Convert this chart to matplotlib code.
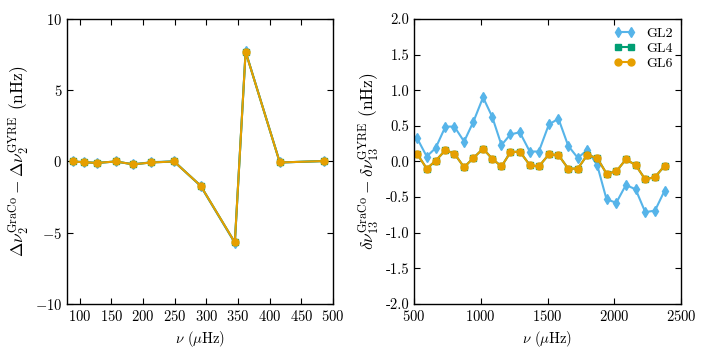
import numpy as np
import matplotlib
matplotlib.use('Agg')
import matplotlib.pyplot as plt

plt.rcParams['font.family'] = 'serif'
plt.rcParams['font.serif'] = ['cmr10', 'DejaVu Serif']
plt.rcParams['mathtext.fontset'] = 'cm'
plt.rcParams['axes.formatter.use_mathtext'] = True
plt.rcParams['font.size'] = 10
plt.rcParams['axes.linewidth'] = 1.0

# left panel: large separation differences (l=2)
nu_l2 = [89.5, 106.3, 127.4, 156.8, 184.7, 212.6, 249.0, 291.0, 345.0, 362.0, 416.0, 485.0]
dnu2_gl2 = [0.0, -0.05, -0.1, 0.0, -0.2, -0.05, 0.02, -1.72, -5.72, 7.72, -0.07, 0.03]
dnu2_gl4 = [0.0, -0.05, -0.1, 0.0, -0.2, -0.07, 0.0, -1.7, -5.68, 7.7, -0.07, 0.03]
dnu2_gl6 = [0.0, -0.05, -0.1, 0.0, -0.2, -0.07, 0.0, -1.7, -5.68, 7.7, -0.07, 0.03]

# right panel: small separation differences (l=1,3)
nu_13 = [522, 595, 662, 735, 802, 875, 945, 1017, 1085, 1155, 1222, 1292, 1367, 1435,
         1510, 1582, 1655, 1727, 1797, 1872, 1942, 2015, 2087, 2160, 2232, 2305, 2377]
d13_gl2 = [0.33, 0.07, 0.19, 0.49, 0.49, 0.28, 0.56, 0.90, 0.63, 0.23, 0.38, 0.41, 0.14, 0.14,
           0.52, 0.60, 0.22, 0.05, 0.16, -0.05, -0.53, -0.58, -0.33, -0.39, -0.71, -0.69, -0.41]
d13_gl4 = [0.11, -0.10, 0.01, 0.16, 0.11, -0.08, 0.05, 0.18, 0.04, -0.07, 0.13, 0.14, -0.05, -0.07,
           0.10, 0.09, -0.10, -0.10, 0.09, 0.05, -0.17, -0.14, 0.03, -0.05, -0.25, -0.22, -0.06]
d13_gl6 = [0.11, -0.10, 0.01, 0.16, 0.11, -0.08, 0.05, 0.18, 0.04, -0.07, 0.13, 0.14, -0.05, -0.07,
           0.10, 0.09, -0.10, -0.10, 0.09, 0.05, -0.17, -0.14, 0.03, -0.05, -0.25, -0.22, -0.06]

c_gl2 = '#56B4E9'
c_gl4 = '#009E73'
c_gl6 = '#E69F00'

fig = plt.figure(figsize=(7.09, 3.55), dpi=100)
ax1 = fig.add_axes([0.0945, 0.1437, 0.3752, 0.8028])
ax2 = fig.add_axes([0.584, 0.1437, 0.3765, 0.8028])

for ax in (ax1, ax2):
    ax.tick_params(direction='in', top=True, right=True, length=4, width=0.8, labelsize=10.5)

ax1.plot(nu_l2, dnu2_gl2, '-d', color=c_gl2, ms=5, mec=c_gl2, lw=1.5, label='GL2')
ax1.plot(nu_l2, dnu2_gl4, '-s', color=c_gl4, ms=5, mec=c_gl4, lw=1.5, label='GL4')
ax1.plot(nu_l2, dnu2_gl6, '-o', color=c_gl6, ms=5, mec=c_gl6, lw=1.5, label='GL6')
ax1.set_xlim(80, 500)
ax1.set_ylim(-10, 10)
ax1.set_xticks([100, 150, 200, 250, 300, 350, 400, 450, 500])
ax1.set_yticks([-10, -5, 0, 5, 10])
ax1.set_xlabel(r'$\nu$ ($\mu$Hz)', fontsize=10.5)
ax1.set_ylabel(r'$\Delta\nu_2^{\rm GraCo} - \Delta\nu_2^{\rm GYRE}$ (nHz)', fontsize=12.5, labelpad=3)

ax2.plot(nu_13, d13_gl2, '-d', color=c_gl2, ms=5, mec=c_gl2, lw=1.5, label='GL2')
ax2.plot(nu_13, d13_gl4, '-s', color=c_gl4, ms=5, mec=c_gl4, lw=1.5, label='GL4')
ax2.plot(nu_13, d13_gl6, '-o', color=c_gl6, ms=5, mec=c_gl6, lw=1.5, label='GL6')
ax2.set_xlim(500, 2500)
ax2.set_ylim(-2, 2)
ax2.set_xticks([500, 1000, 1500, 2000, 2500])
ax2.set_yticks(np.arange(-2.0, 2.01, 0.5))
ax2.yaxis.set_major_formatter(matplotlib.ticker.FormatStrFormatter('%.1f'))
ax2.set_xlabel(r'$\nu$ ($\mu$Hz)', fontsize=10.5)
ax2.set_ylabel(r'$\delta\nu_{13}^{\rm GraCo} - \delta\nu_{13}^{\rm GYRE}$ (nHz)', fontsize=12.5, labelpad=3)
ax2.legend(loc='upper right', frameon=False, numpoints=2, fontsize=10,
           handlelength=1.5, handletextpad=0.8, labelspacing=0.15,
           borderaxespad=0.3, borderpad=0.3)

fig.savefig('out.png', dpi=100)
